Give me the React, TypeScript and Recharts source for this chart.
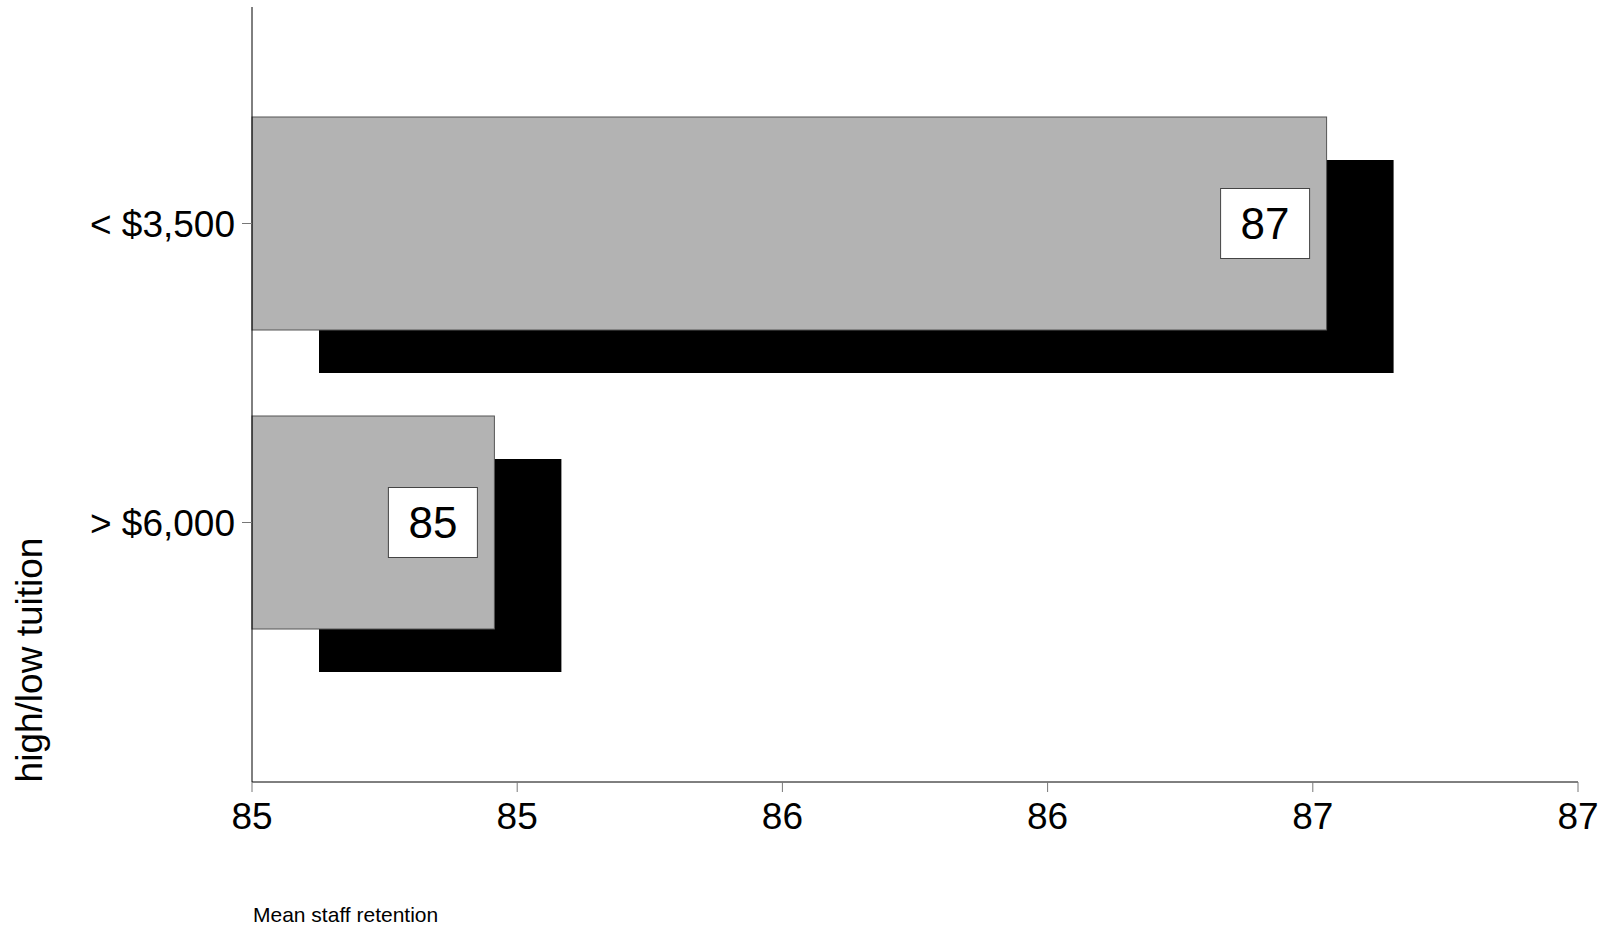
import { BarChart, Bar, XAxis, YAxis, LabelList } from 'recharts';

const categories = ['< $3,500', '> $6,000'];
const retention = [87.026, 85.457];
const xTicks = [85, 85.5, 86, 86.5, 87, 87.5];
const xTickLabels = ['85', '85', '86', '86', '87', '87'];

const data = categories.map((name, i) => ({ name, value: retention[i] }));

const FONT = '"Liberation Sans", Arial, Helvetica, sans-serif';
const SHADOW_DX = 67;
const SHADOW_DY = 43;

// grey bar with a black drop shadow behind it
const ShadowBar = (props: any) => {
    const { x, y, width, height } = props;
    return (
        <g>
            <rect x={x + SHADOW_DX} y={y + SHADOW_DY} width={width} height={height} fill="#000" />
            <rect x={x} y={y} width={width} height={height} fill="#b3b3b3" stroke="#555" strokeWidth={1} />
        </g>
    );
};

const BoxLabel = (props: any) => {
    const { x, y, width, height, value } = props;
    const bw = 89;
    const bh = 70;
    const right = x + width - 17;
    const cy = y + height / 2;
    return (
        <g>
            <rect x={right - bw} y={cy - bh / 2} width={bw} height={bh} fill="#fff" stroke="#444" strokeWidth={1} />
            <text x={right - bw / 2} y={cy} textAnchor="middle" dominantBaseline="central"
                fontSize={44} fontFamily={FONT} fill="#000">
                {Number(value).toFixed(0)}
            </text>
        </g>
    );
};

export default function App() {
    return (
        <div style={{ position: 'absolute', left: 0, top: 0 }}>
            <BarChart
                width={1605}
                height={928}
                data={data}
                layout="vertical"
                margin={{ top: 7, right: 27, bottom: 0, left: 0 }}
                barSize={213}
            >
                <XAxis
                    type="number"
                    domain={[85, 87.5]}
                    ticks={xTicks}
                    tickFormatter={(v: number) => xTickLabels[xTicks.indexOf(v)]}
                    height={146}
                    axisLine={{ stroke: '#000', strokeWidth: 1 }}
                    tickLine={{ stroke: '#777', strokeWidth: 1 }}
                    tickSize={10}
                    tickMargin={11}
                    tick={{ fill: '#000', fontSize: 37, fontFamily: FONT }}
                    label={{
                        content: ({ viewBox }: any) => (
                            <text x={viewBox.x + 1} y={viewBox.y + 140} fontSize={21}
                                fontFamily={FONT} fill="#000">
                                Mean staff retention
                            </text>
                        ),
                    }}
                />
                <YAxis
                    type="category"
                    dataKey="name"
                    width={252}
                    padding={{ top: 67, bottom: 110 }}
                    axisLine={{ stroke: '#000', strokeWidth: 1 }}
                    tickLine={{ stroke: '#777', strokeWidth: 1 }}
                    tickSize={10}
                    tickMargin={7}
                    tick={{ fill: '#000', fontSize: 37, fontFamily: FONT }}
                    label={{
                        content: () => (
                            <text x={42} y={660} transform="rotate(-90 42 660)" textAnchor="middle"
                                fontSize={37} fontFamily={FONT} fill="#000">
                                high/low tuition
                            </text>
                        ),
                    }}
                />
                <Bar dataKey="value" shape={ShadowBar} isAnimationActive={false}>
                    <LabelList dataKey="value" content={BoxLabel} />
                </Bar>
            </BarChart>
        </div>
    );
}
